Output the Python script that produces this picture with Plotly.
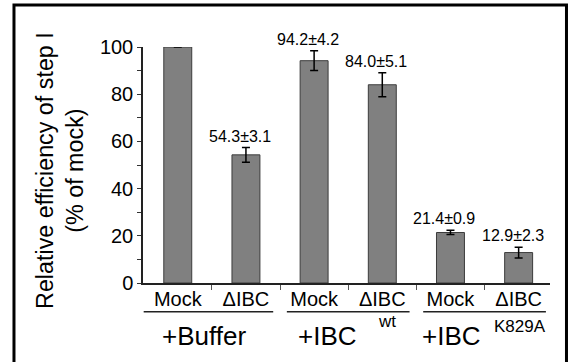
import plotly.graph_objects as go

# ---- data ----
categories = ["Mock", "ΔIBC", "Mock", "ΔIBC", "Mock", "ΔIBC"]
values = [100.0, 54.3, 94.2, 84.0, 21.4, 12.9]
errors = [0.0, 3.1, 4.2, 5.1, 0.9, 2.3]
value_labels = ["", "54.3±3.1", "94.2±4.2", "84.0±5.1", "21.4±0.9", "12.9±2.3"]
group_names = ["+Buffer", "+IBC", "+IBC"]
group_sups = ["", "wt", "K829A"]
y_ticks = [0, 20, 40, 60, 80, 100]
y_minor = [10, 30, 50, 70, 90]

FONT = "Arial, 'Liberation Sans', Helvetica, sans-serif"
x_pos = list(range(len(categories)))

fig = go.Figure()
fig.add_trace(go.Bar(
    x=x_pos, y=values, width=0.41,
    marker=dict(color="#808080", line=dict(color="#3c3c3c", width=1)),
    error_y=dict(type="data", array=errors, visible=True, color="black",
                 thickness=1.5, width=4),
    showlegend=False, hoverinfo="skip",
))

annotations = []
for i, (v, e, t) in enumerate(zip(values, errors, value_labels)):
    if t:
        annotations.append(dict(x=i, y=v + e, xref="x", yref="y", text=t,
                                showarrow=False, yanchor="bottom", yshift=1, xshift=-6,
                                font=dict(family=FONT, size=16, color="black")))

shapes = []
n_groups = len(group_names)
for g in range(n_groups):
    c = 2 * g + 0.5
    left = c - 0.9 if g > 0 else -0.5
    right = c + 0.9
    shapes.append(dict(type="line", xref="x", yref="paper", x0=left, x1=right,
                       y0=-0.122, y1=-0.122, line=dict(color="#222222", width=1.5)))

# group labels
name_shift = [-8, -21, -33]
sup_shift = [0, 28, 7]
sup_y = [0, -0.163, -0.185]
for g in range(n_groups):
    c = 2 * g + 0.5
    annotations.append(dict(x=c, y=-0.225, xref="x", yref="paper", text=group_names[g],
                            showarrow=False, xanchor="center", yanchor="middle",
                            xshift=name_shift[g],
                            font=dict(family=FONT, size=26, color="black")))
    if group_sups[g]:
        annotations.append(dict(x=c, y=sup_y[g], xref="x", yref="paper", text=group_sups[g],
                                showarrow=False, xanchor="left", yanchor="middle",
                                xshift=sup_shift[g],
                                font=dict(family=FONT, size=17, color="black")))

# y-axis title
annotations.append(dict(x=-0.2027, y=0.477, xref="paper", yref="paper",
                        text="Relative efficiency of step I<br>(% of mock)",
                        textangle=-90, showarrow=False, xanchor="center", yanchor="middle",
                        font=dict(family=FONT, size=23.3, color="black")))

# outer frame
shapes.append(dict(type="rect", xref="paper", yref="paper",
                   x0=-0.317, x1=1.0405, y0=-0.36, y1=1.1778,
                   line=dict(color="black", width=3)))

fig.update_layout(
    width=572, height=362,
    margin=dict(l=143, r=22, t=47, b=79, autoexpand=False),
    paper_bgcolor="white", plot_bgcolor="white",
    font=dict(family=FONT, size=20, color="black"),
    annotations=annotations, shapes=shapes,
    xaxis=dict(range=[-0.51, 5.46], tickmode="array", tickvals=x_pos, ticktext=categories,
               ticks="", showline=True, linecolor="#222222", linewidth=1.5,
               showgrid=False, zeroline=False, automargin=False,
               ticklabelstandoff=-3,
               tickfont=dict(family=FONT, size=20, color="black"),
               minor=dict(tickmode="array", tickvals=[i + 0.5 for i in x_pos[:-1]],
                          ticks="outside", ticklen=5, tickwidth=1, tickcolor="#555555")),
    yaxis=dict(range=[0, 100], tickmode="array", tickvals=y_ticks,
               ticks="outside", ticklen=4, tickwidth=1, tickcolor="#333333",
               showline=True, linecolor="#222222", linewidth=1.5,
               showgrid=False, zeroline=False, automargin=False,
               tickfont=dict(family=FONT, size=20, color="black"),
               minor=dict(tickmode="array", tickvals=y_minor, ticks="outside",
                          ticklen=4, tickwidth=1, tickcolor="#333333")),
)

# remove the default 8px page margin so the figure sits at the window's corner
fig.write_html("out.html", config={"displayModeBar": False},
               post_script="document.body.style.margin='0';")
